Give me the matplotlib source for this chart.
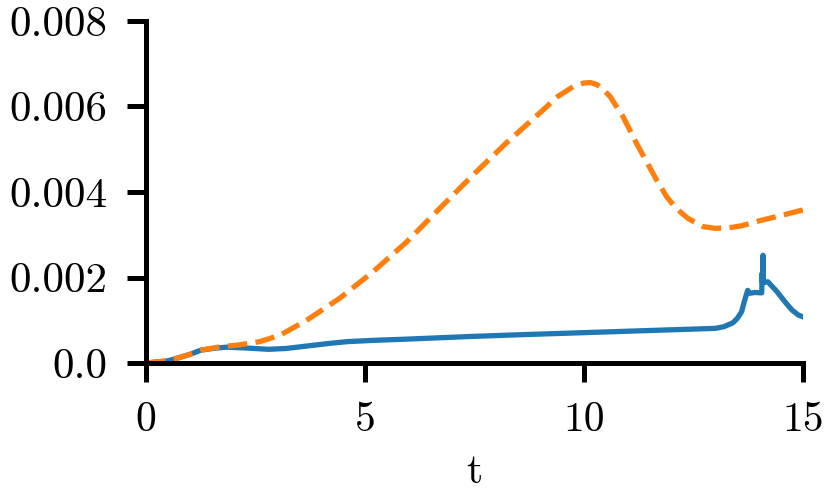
import numpy as np
import matplotlib
matplotlib.use("Agg")
import matplotlib.pyplot as plt

plt.rcParams['font.family'] = 'serif'
plt.rcParams['font.serif'] = ['cmr10']
plt.rcParams['mathtext.fontset'] = 'cm'
plt.rcParams['axes.unicode_minus'] = False
plt.rcParams['axes.formatter.use_mathtext'] = True

# blue solid series
t_blue = [0.0, 0.5, 1.0, 1.25, 1.6, 1.85, 2.3, 2.8, 3.2, 3.7, 4.2, 4.6, 5.2, 6.0, 7.4,
          8.5, 10.0, 11.5, 13.0, 13.2, 13.4, 13.5, 13.6, 13.68, 13.74, 13.78, 13.9,
          14.06, 14.07, 14.075, 14.08, 14.09, 14.1, 14.2, 14.4, 14.6, 14.75, 14.9, 15.0]
v_blue = [0.0, 0.00005, 0.00020, 0.00030, 0.00035, 0.00037, 0.00035, 0.00032, 0.00034,
          0.00040, 0.00046, 0.00050, 0.00053, 0.00056, 0.00062, 0.00066, 0.00071,
          0.00076, 0.00081, 0.00085, 0.00094, 0.00104, 0.00120, 0.00150, 0.00170,
          0.00163, 0.00165, 0.00164, 0.00210, 0.00190, 0.00188, 0.00252, 0.00188,
          0.00190, 0.00168, 0.00142, 0.00124, 0.00112, 0.00108]

# orange dashed series
t_orange = [0.0, 0.5, 1.0, 1.3, 1.7, 2.1, 2.6, 3.06, 3.67, 4.43, 5.18, 5.95, 6.71, 7.47,
            8.2, 8.96, 9.41, 9.75, 10.0, 10.15, 10.3, 10.45, 10.6, 10.9, 11.2, 11.66,
            11.89, 12.1, 12.38, 12.72, 13.0, 13.3, 13.6, 14.02, 14.5, 15.0]
v_orange = [0.0, 0.00005, 0.00020, 0.00031, 0.00038, 0.00042, 0.00050, 0.00065, 0.00100,
            0.00152, 0.00213, 0.00283, 0.00362, 0.00440, 0.00512, 0.00582, 0.00624,
            0.00646, 0.00655, 0.00656, 0.00651, 0.00639, 0.00623, 0.00575, 0.00514,
            0.00428, 0.00389, 0.00362, 0.00338, 0.00319, 0.00315, 0.00316, 0.00321,
            0.00333, 0.00345, 0.00358]

xticks = [0, 5, 10, 15]
yticks = [0.0, 0.002, 0.004, 0.006, 0.008]
ytick_labels = ['0.0', '0.002', '0.004', '0.006', '0.008']

fig = plt.figure(figsize=(8.32, 5.0), dpi=100)
ax = fig.add_axes([0.1755, 0.274, 0.7895, 0.684])

ax.plot(t_blue, v_blue, color='#1f77b4', lw=3.8, solid_joinstyle='round')
ax.plot(t_orange, v_orange, color='#ff7f0e', lw=3.8, ls='--')

ax.set_xlim(0, 15)
ax.set_ylim(0, 0.008)
ax.set_xticks(xticks)
ax.set_xticklabels([str(x) for x in xticks])
ax.set_yticks(yticks)
ax.set_yticklabels(ytick_labels)
ax.set_xlabel('t', fontsize=30, labelpad=11)

for s in ['top', 'right']:
    ax.spines[s].set_visible(False)
for s in ['left', 'bottom']:
    ax.spines[s].set_linewidth(3.6)
ax.tick_params(direction='out', length=13.5, width=3.6, pad=14)
ax.tick_params(axis='x', labelsize=30)
ax.tick_params(axis='y', labelsize=31)

fig.savefig('out.png', dpi=100)
